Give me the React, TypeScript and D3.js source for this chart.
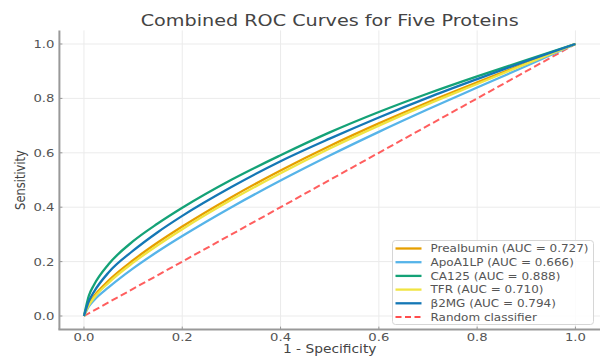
import { useMemo } from 'react';
import * as d3 from 'd3';

// false positive rate grid (1 - specificity)
const fpr = [0, 0.01, 0.02, 0.05, 0.1, 0.15, 0.2, 0.3, 0.4, 0.5, 0.6, 0.7, 0.8, 0.9, 1.0];

// sensitivity for each protein
const tprPrealbumin = [0, 0.045, 0.072, 0.13, 0.205, 0.27, 0.329, 0.437, 0.535, 0.625, 0.708, 0.786, 0.859, 0.93, 1];
const tprApoA1LP = [0, 0.035, 0.057, 0.105, 0.175, 0.237, 0.294, 0.4, 0.498, 0.59, 0.677, 0.76, 0.84, 0.919, 1];
const tprCA125 = [0, 0.075, 0.113, 0.19, 0.275, 0.34, 0.398, 0.501, 0.591, 0.675, 0.75, 0.818, 0.881, 0.941, 1];
const tprTFR = [0, 0.04, 0.066, 0.122, 0.196, 0.26, 0.319, 0.427, 0.525, 0.616, 0.7, 0.779, 0.853, 0.927, 1];
const tprB2MG = [0, 0.055, 0.088, 0.16, 0.24, 0.308, 0.368, 0.474, 0.569, 0.652, 0.73, 0.803, 0.871, 0.937, 1];

const proteins = ['Prealbumin', 'ApoA1LP', 'CA125', 'TFR', 'β2MG'];
const aucValues = [0.727, 0.666, 0.888, 0.71, 0.794];
const seriesColors = ['#E69F00', '#56B4E9', '#14a277', '#F0E442', '#1477b5'];
const seriesValues = [tprPrealbumin, tprApoA1LP, tprCA125, tprTFR, tprB2MG];

const ticks = [0, 0.2, 0.4, 0.6, 0.8, 1.0];

const W = 607;
const H = 356;
const SX = 1.2; // the reference is stretched sideways a little
const FONT = 'DejaVu Sans, sans-serif';

function SText({ x, y, size, fill, anchor = 'start', children, rotate = 0 }: any) {
  const t = rotate ? `translate(${x},${y}) rotate(${rotate}) scale(1,${SX})` : `translate(${x},${y}) scale(${SX},1)`;
  return (
    <text transform={t} fontSize={size} fill={fill} textAnchor={anchor} fontFamily={FONT}>
      {children}
    </text>
  );
}

export default function App() {
  const x = useMemo(() => d3.scaleLinear().domain([-0.05, 1.05]).range([59.4, 600]), []);
  const y = useMemo(() => d3.scaleLinear().domain([-0.05, 1.05]).range([329.6, 30.4]), []);

  const line = d3
    .line<number>()
    .x((_, i) => x(fpr[i]))
    .y(d => y(d))
    .curve(d3.curveMonotoneX);

  const diag = d3.line<number>().x(d => x(d)).y(d => y(d));

  const [x0, x1] = x.range();
  const [y0, y1] = y.range();

  // legend
  const legX = 392.5;
  const legY = 240.5;
  const legW = 201;
  const legH = 84;
  const rowH = 13.7;
  const legendLabels = [
    ...proteins.map((p, i) => `${p} (AUC = ${aucValues[i].toFixed(3)})`),
    'Random classifier',
  ];

  return (
    <svg width={W} height={H} style={{ position: 'fixed', left: 0, top: 0, background: '#fff' }}>
      <rect width={W} height={H} fill="#fff" />

      {/* grid */}
      {ticks.map(t => (
        <g key={`g${t}`}>
          <line x1={x(t)} x2={x(t)} y1={y1} y2={y0} stroke="#ebebeb" strokeWidth={1} />
          <line x1={x0} x2={x1} y1={y(t)} y2={y(t)} stroke="#ebebeb" strokeWidth={1} />
        </g>
      ))}

      {/* random classifier */}
      <path d={diag([0, 1]) || ''} fill="none" stroke="#ff4d4d" strokeOpacity={0.9} strokeWidth={2} strokeDasharray="7,3.5" />

      {/* ROC curves */}
      {seriesValues.map((vals, i) => (
        <path key={proteins[i]} d={line(vals) || ''} fill="none" stroke={seriesColors[i]} strokeWidth={2.3} strokeLinejoin="round" />
      ))}

      {/* spines */}
      <line x1={x0} x2={x0} y1={y1} y2={y0} stroke="#999" strokeWidth={2} />
      <line x1={x0 - 1} x2={x1} y1={y0} y2={y0} stroke="#999" strokeWidth={2} />

      {/* ticks */}
      {ticks.map(t => (
        <g key={`t${t}`}>
          <line x1={x(t)} x2={x(t)} y1={y0} y2={y0 - 3} stroke="#999" strokeWidth={1} />
          <line x1={x0} x2={x0 + 3} y1={y(t)} y2={y(t)} stroke="#999" strokeWidth={1} />
          <SText x={x(t)} y={y0 + 11} size={11} fill="#555" anchor="middle">{t.toFixed(1)}</SText>
          <SText x={x0 - 5} y={y(t) + 4} size={11} fill="#555" anchor="end">{t.toFixed(1)}</SText>
        </g>
      ))}

      {/* axis labels */}
      <SText x={(x0 + x1) / 2} y={352.5} size={11.5} fill="#444" anchor="middle">1 - Specificity</SText>
      <SText x={25} y={(y0 + y1) / 2} size={11.5} fill="#444" anchor="middle" rotate={-90}>Sensitivity</SText>

      {/* title */}
      <SText x={(x0 + x1) / 2} y={26} size={16} fill="#444" anchor="middle">Combined ROC Curves for Five Proteins</SText>

      {/* legend */}
      <rect x={legX} y={legY} width={legW} height={legH} rx={3} fill="#fff" fillOpacity={0.85} stroke="#d6d6d6" strokeWidth={1} />
      {legendLabels.map((lab, i) => {
        const cy = legY + 8 + i * rowH;
        const isRandom = i === proteins.length;
        return (
          <g key={lab}>
            <line
              x1={legX + 3}
              x2={legX + 29}
              y1={cy}
              y2={cy}
              stroke={isRandom ? '#ff4d4d' : seriesColors[i]}
              strokeWidth={isRandom ? 2 : 2.3}
              strokeDasharray={isRandom ? '6,3.5' : undefined}
            />
            <SText x={legX + 38} y={cy + 3.6} size={10} fill="#555">{lab}</SText>
          </g>
        );
      })}
    </svg>
  );
}
